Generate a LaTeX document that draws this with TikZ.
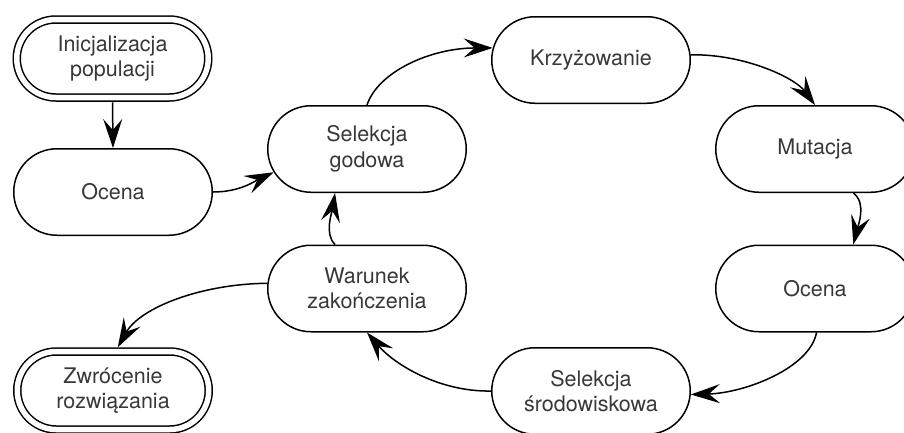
\documentclass[tikz,border=0pt]{standalone}
\usepackage{fontspec}
\setmainfont{TeX Gyre Heros}
\usetikzlibrary{shapes.misc,arrows.meta}
\begin{document}
\begin{tikzpicture}[x=1pt,y=-1pt,
  stage/.style={rounded rectangle, draw=black, line width=1.5pt, fill=white,
    minimum width=198.5pt, minimum height=86.5pt, inner sep=0pt, align=center,
    font=\fontsize{21.5}{25.5}\selectfont, text=black!78},
  terminal/.style={stage, double, double distance=5.5pt,
    minimum width=191.5pt, minimum height=78pt},
  flow/.style={line width=1.5pt, -{Stealth[length=29pt,width=19pt,inset=11pt]}},
]
\useasboundingbox (0,0) rectangle (904,432);
\clip (0,0) rectangle (904,432);

% stages of the evolutionary loop
\node[terminal] (init) at (112.5,58.5) {Inicjalizacja\\populacji};
\node[stage] (o1) at (113,192) {Ocena};
\node[stage] (sg) at (367,149) {Selekcja\\godowa};
\node[stage] (kr) at (591,60) {Krzyżowanie};
\node[stage] (mu) at (815,149) {Mutacja};
\node[stage] (o2) at (815,288.5) {Ocena};
\node[stage] (ss) at (591,391) {Selekcja\\środowiskowa};
\node[stage] (wz) at (367,288.5) {Warunek\\zakończenia};
\node[terminal] (zr) at (113,390.5) {Zwrócenie\\rozwiązania};

% transitions
\draw[flow, shorten <=4pt] (init.south) -- (o1.north);
\draw[flow] (o1.east) .. controls (240,192) and (255,181) .. (sg.194);
\draw[flow] (sg.north) .. controls (378,72) and (430,48) .. (kr.173);
\draw[flow] (kr.3) .. controls (745,54) and (795,78) .. (mu.north);
\draw[flow] (mu.-49) .. controls (867,203) and (858,226) .. (o2.49);
\draw[flow] (o2.-88) .. controls (810,368) and (745,393) .. (ss.-2);
\draw[flow] (ss.west) .. controls (440,392) and (395,365) .. (wz.south);
\draw[flow] (wz.126) .. controls (324,234) and (332,212) .. (sg.234);
\draw[flow, shorten >=4pt] (wz.177) .. controls (200,284) and (140,308) .. (zr.86);
\end{tikzpicture}
\end{document}
